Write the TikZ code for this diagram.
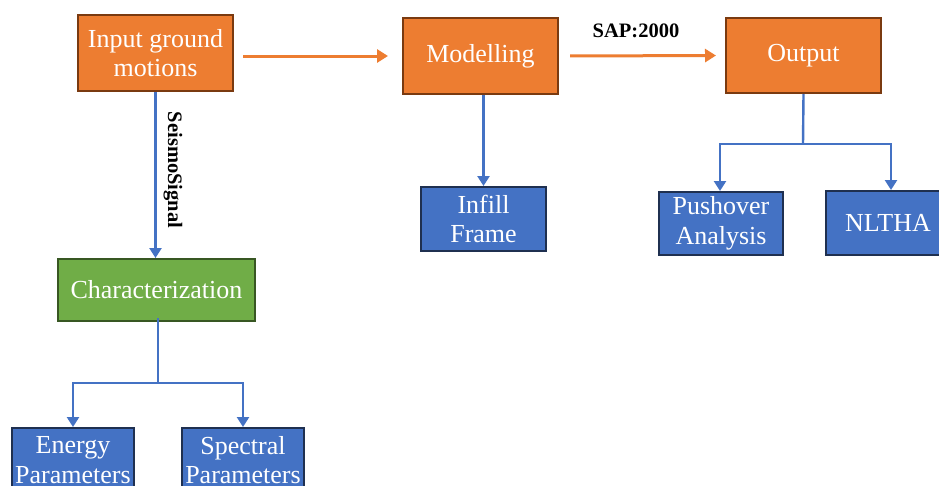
\documentclass[tikz,border=0pt]{standalone}
\usepackage{fontspec}
\setmainfont{Liberation Serif}
\usetikzlibrary{arrows.meta}
\definecolor{ofill}{HTML}{ED7D31}
\definecolor{odraw}{HTML}{7A3A10}
\definecolor{bfill}{HTML}{4472C4}
\definecolor{bdraw}{HTML}{1F3050}
\definecolor{gfill}{HTML}{70AD47}
\definecolor{gdraw}{HTML}{385723}
\definecolor{bline}{HTML}{4472C4}
\begin{document}
\begin{tikzpicture}[x=1pt,y=-1pt,
  box/.style={rectangle, line width=2pt, text=white, align=center, inner sep=0pt,
    font=\fontsize{26}{29.5}\selectfont},
  obox/.style={box, fill=ofill, draw=odraw},
  bbox/.style={box, fill=bfill, draw=bdraw},
  gbox/.style={box, fill=gfill, draw=gdraw},
  oarrow/.style={draw=ofill, line width=3pt, -{Triangle[length=11pt,width=13pt]}},
  bline/.style={draw=bline, line width=2.4pt},
  barrow/.style={bline, -{Triangle[length=10pt,width=12pt]}},
  lbl/.style={font=\bfseries\fontsize{20.5}{24}\selectfont, text=black, inner sep=0pt}
]
\clip (0,0) rectangle (939,485);
\fill[white] (0,0) rectangle (939,485);

\node[obox, minimum width=155pt, minimum height=76pt] (input) at (155.5,53) {Input ground\\motions};
\node[obox, minimum width=155pt, minimum height=76pt] (model) at (480.5,56) {Modelling};
\node[obox, minimum width=155pt, minimum height=75pt] (output) at (803.5,55.5) {Output};
\node[bbox, minimum width=125pt, minimum height=64pt] (infill) at (483.5,219) {Infill\\Frame};
\node[bbox, minimum width=124pt, minimum height=63pt] (push) at (721,223.5) {Pushover\\Analysis};
\node[bbox, minimum width=124pt, minimum height=64pt] (nltha) at (888,223) {NLTHA};
\node[gbox, minimum width=197pt, minimum height=62pt] (char) at (156.5,290) {Characterization};
\node[bbox, minimum width=122pt, minimum height=64pt] (energy) at (73,460) {Energy\\Parameters};
\node[bbox, minimum width=122pt, minimum height=64pt] (spectral) at (243,460) {Spectral\\Parameters};

% orange arrows
\draw[oarrow, shorten <=9pt, shorten >=14pt] (input.east |- model.west) -- (model.west);
\draw[oarrow, shorten <=11pt, shorten >=9pt] (model.east) -- (output.west);
\node[lbl] (sap) at (636,31) {SAP:2000};

% input -> characterization
\draw[barrow] (input.south) -- (input.south |- char.north);
\node[lbl, rotate=-90] (seismo) at (173,170) {SeismoSignal};

% modelling -> infill
\draw[barrow] (model.south -| infill.north) -- (infill.north);

% output -> pushover / nltha
\coordinate (oj) at (803,144);
\draw[bline] (output.south) -- (oj);
\draw[barrow] (oj) -| ([xshift=-1pt]push.north);
\draw[barrow] (oj) -| ([xshift=3pt]nltha.north);

% characterization -> energy / spectral
\coordinate (cj) at (158,383);
\draw[bline] ([yshift=4pt]char.south -| cj) -- (cj);
\draw[barrow] (cj) -| (energy.north);
\draw[barrow] (cj) -| (spectral.north);
\end{tikzpicture}
\end{document}
